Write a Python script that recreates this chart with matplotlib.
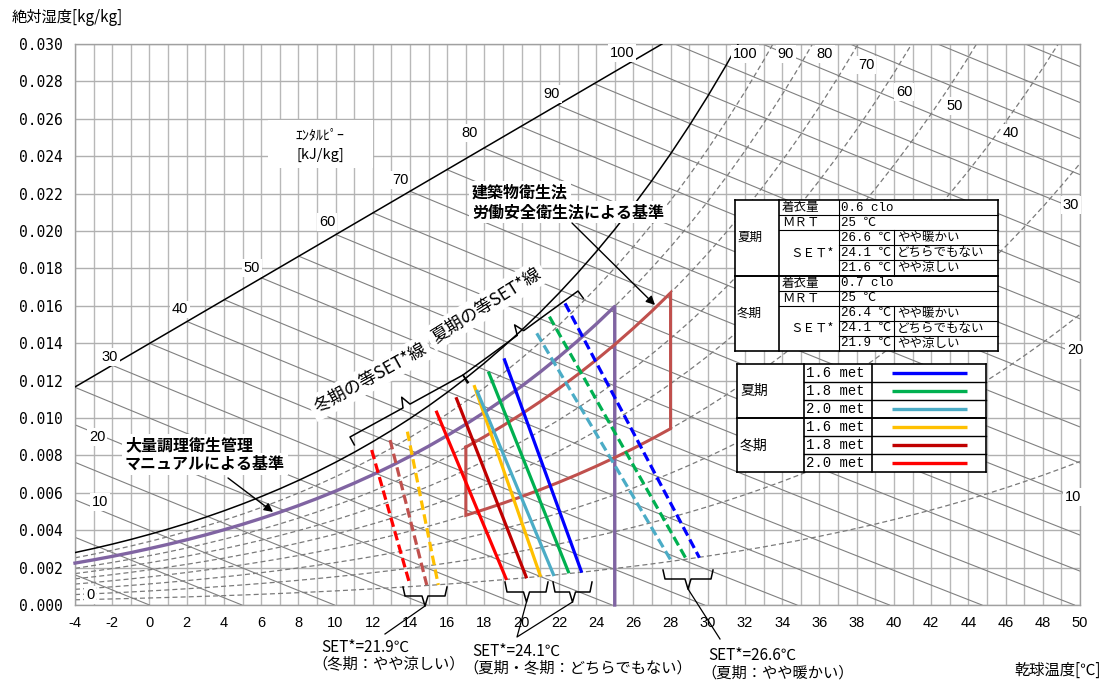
import numpy as np
import matplotlib
matplotlib.use("Agg")
import matplotlib.pyplot as plt
from matplotlib.patches import Rectangle

JP = ["Noto Sans CJK JP", "DejaVu Sans"]
NUM = ["Liberation Sans", "DejaVu Sans"]
MONO = ["Liberation Mono", "Noto Sans CJK JP", "DejaVu Sans"]
plt.rcParams['font.family'] = JP

# ---------------- psychrometric base data ----------------
temp_table = list(range(-4, 51))
ps_table = [0.4547, 0.4898, 0.5274, 0.5678, 0.6113, 0.6571, 0.7060, 0.7581, 0.8136, 0.8726,
            0.9354, 1.0021, 1.0730, 1.1482, 1.2282, 1.3129, 1.4028, 1.4981, 1.5989, 1.7057,
            1.8188, 1.9383, 2.0647, 2.1982, 2.3392, 2.4881, 2.6452, 2.8109, 2.9856, 3.1697,
            3.3637, 3.5679, 3.7828, 4.0089, 4.2467, 4.4966, 4.7592, 5.0351, 5.3247, 5.6286,
            5.9475, 6.2819, 6.6324, 6.9997, 7.3844, 7.7873, 8.2090, 8.6503, 9.1118, 9.5944,
            10.099, 10.627, 11.177, 11.752, 12.352]
P_ATM = 101.325
rh_levels = [10, 20, 30, 40, 50, 60, 70, 80, 90]
enthalpy_levels = list(range(0, 130, 5))
enth_scale_t = [-4.0, 27.54]
enth_scale_w = [0.01166, 0.030]

rh_label_text = ['100', '90', '80', '70', '60', '50', '40', '30', '20', '10']
rh_label_t = [32.0, 34.2, 36.3, 38.5, 40.54, 43.28, 46.29, 49.52, 49.73, 49.62]
rh_label_w = [0.02947, 0.02947, 0.02947, 0.02888, 0.02743, 0.02668, 0.02524, 0.02139, 0.01364, 0.00578]
h_label_text = ['0', '10', '20', '30', '40', '50', '60', '70', '80', '90', '100']
h_label_t = [-3.19, -2.66, -2.82, -2.12, 1.64, 5.51, 9.54, 13.46, 17.22, 21.63, 25.39]
h_label_w = [0.00053, 0.00551, 0.00898, 0.01326, 0.01581, 0.01802, 0.02048, 0.02273, 0.02524, 0.02733, 0.02952]

# standards
kitchen_rh = 80
kitchen_tmax = 25
bldg_t = [17, 28]
bldg_rh = [40, 70]

# ---------------- SET* lines (top t, top w, bottom t, bottom w) ----------------
set_groups = {
    'winter_21.9': dict(style='dashed',
                        colors=['#ff0000', '#c0504d', '#ffc000'],
                        top_t=[11.94, 12.93, 13.86], top_w=[0.00829, 0.00882, 0.00927],
                        bot_t=[14.00, 14.90, 15.52], bot_w=[0.00107, 0.00107, 0.00107]),
    'winter_24.1': dict(style='solid',
                        colors=['#ff0000', '#c00000', '#ffc000'],
                        top_t=[15.40, 16.47, 17.44], top_w=[0.01039, 0.01111, 0.01176],
                        bot_t=[19.19, 20.27, 21.02], bot_w=[0.00134, 0.00143, 0.00151]),
    'summer_24.1': dict(style='solid',
                        colors=['#4bacc6', '#00b050', '#0000ff'],
                        top_t=[17.58, 18.21, 19.05], top_w=[0.01150, 0.01248, 0.01319],
                        bot_t=[21.74, 22.54, 23.23], bot_w=[0.00155, 0.00170, 0.00173]),
    'summer_26.6': dict(style='dashed',
                        colors=['#4bacc6', '#00b050', '#0000ff'],
                        top_t=[20.81, 21.49, 22.33], top_w=[0.01453, 0.01542, 0.01613],
                        bot_t=[28.06, 28.87, 29.55], bot_w=[0.00232, 0.00241, 0.00253]),
}

# tables
cond_rows_summer = [('着衣量', '0.6 clo'), ('ＭＲＴ', '25 ℃')]
cond_rows_winter = [('着衣量', '0.7 clo'), ('ＭＲＴ', '25 ℃')]
set_rows_summer = [('26.6 ℃', 'やや暖かい'), ('24.1 ℃', 'どちらでもない'), ('21.6 ℃', 'やや涼しい')]
set_rows_winter = [('26.4 ℃', 'やや暖かい'), ('24.1 ℃', 'どちらでもない'), ('21.9 ℃', 'やや涼しい')]
legend_met = ['1.6 met', '1.8 met', '2.0 met']
legend_summer_colors = ['#0000ff', '#00b050', '#4bacc6']
legend_winter_colors = ['#ffc000', '#c00000', '#ff0000']

# ---------------- figure ----------------
W, H = 1107, 681
fig = plt.figure(figsize=(W / 100, H / 100), dpi=100)
ax = fig.add_axes([75 / W, (H - 605) / H, 1005 / W, 561 / H])
ax.set_xlim(-4, 50)
ax.set_ylim(0, 0.030)

ax.set_xticks(np.arange(-4, 51, 2))
ax.set_xticks(np.arange(-4, 51, 1), minor=True)
ax.set_yticks(np.arange(0, 0.0301, 0.002))
ax.set_xticklabels([str(v) for v in range(-4, 51, 2)], fontfamily=NUM, fontsize=10.5)
ax.set_yticklabels([f"{v:.3f}" for v in np.arange(0, 0.0301, 0.002)],
                   fontfamily=["DejaVu Sans Mono"], fontsize=10.5)
ax.tick_params(axis='both', which='both', length=0)
ax.tick_params(axis='x', pad=8)
ax.tick_params(axis='y', pad=9)
ax.grid(which='both', axis='x', color='#b8b8b8', lw=1.0)
ax.grid(which='major', axis='y', color='#b0b0b0', lw=1.0)
ax.set_axisbelow(True)
for s in ax.spines.values():
    s.set_color('#a0a0a0')
    s.set_linewidth(1.0)

T = np.array(temp_table, dtype=float)
PS = np.array(ps_table)


def w_rh(rh):
    pv = rh / 100.0 * PS
    return 0.622 * pv / (P_ATM - pv)


# RH curves
for rh in rh_levels:
    ax.plot(T, w_rh(rh), color='#7a7a7a', lw=0.9, ls=(0, (4, 2.5)), zorder=2)
ax.plot(T, w_rh(100), color='black', lw=1.1, zorder=3)

# enthalpy lines
td = np.linspace(enth_scale_t[0], enth_scale_t[1], 3000)
wd = np.interp(td, enth_scale_t, enth_scale_w)
hd = 1.006 * td + wd * (2501 + 1.86 * td)
for h in enthalpy_levels:
    if h <= hd[0]:
        t0 = -4.0
    elif h <= hd[-1]:
        t0 = np.interp(h, hd, td)
    else:
        t0 = (h - 0.030 * 2501) / (1.006 + 0.030 * 1.86)
    t1 = min(50.0, h / 1.006)
    if t1 <= t0:
        continue
    tt = np.linspace(t0, t1, 40)
    ax.plot(tt, (h - 1.006 * tt) / (2501 + 1.86 * tt), color='#808080', lw=0.8, zorder=2)
ax.plot(enth_scale_t, enth_scale_w, color='black', lw=1.1, zorder=3)

# purple: 大量調理 standard
m = T <= kitchen_tmax
ax.plot(list(T[m]) + [kitchen_tmax], list(w_rh(kitchen_rh)[m]) + [0.0],
        color='#8064a2', lw=2.4, zorder=4, clip_on=False)

# red polygon: 建築物衛生法
mb = (T >= bldg_t[0]) & (T <= bldg_t[1])
up = w_rh(bldg_rh[1])[mb]
lo = w_rh(bldg_rh[0])[mb]
px = list(T[mb]) + list(T[mb][::-1]) + [T[mb][0]]
py = list(up) + list(lo[::-1]) + [up[0]]
ax.plot(px, py, color='#c0504d', lw=2.2, zorder=4, solid_joinstyle='miter')

# SET* lines
for g in set_groups.values():
    ls = (0, (3, 1.4)) if g['style'] == 'dashed' else '-'
    for c, a, b, cc, d in zip(g['colors'], g['top_t'], g['top_w'], g['bot_t'], g['bot_w']):
        ax.plot([a, cc], [b, d], color=c, lw=2.3, ls=ls, zorder=5, solid_capstyle='butt')

# labels on chart
bb = dict(fc='white', ec='none', pad=1.2)
for s, t, w in zip(rh_label_text, rh_label_t, rh_label_w):
    ax.text(t, w, s, ha='center', va='center', fontsize=10.5, fontfamily=NUM,
            bbox=bb, zorder=7, clip_on=False)
for s, t, w in zip(h_label_text, h_label_t, h_label_w):
    ax.text(t, w, s, ha='center', va='center', fontsize=10.5, fontfamily=NUM,
            bbox=bb, zorder=7)
ax.add_patch(Rectangle((6.37, 0.02337), 5.63, 0.00257, fc='white', ec='none', zorder=6))
ax.text(9.16, 0.02513, 'ｴﾝﾀﾙﾋﾟｰ', ha='center', va='center', fontsize=10, zorder=7)
ax.text(9.16, 0.02406, '[kJ/kg]', ha='center', va='center', fontsize=10.5, zorder=7)

# ---------------- overlay (pixel coordinates) ----------------
ov = fig.add_axes([0, 0, 1, 1])
ov.set_xlim(0, W)
ov.set_ylim(H, 0)
ov.axis('off')
ov.patch.set_alpha(0)

ov.text(12, 17, '絶対湿度[kg/kg]', ha='left', va='center', fontsize=11)
ov.text(1101, 670, '乾球温度[℃]', ha='right', va='center', fontsize=11)

# annotation texts
wb = dict(fc='white', ec='none', pad=2)
ov.text(472, 192, '建築物衛生法', ha='left', va='center', fontsize=11.5, fontweight='bold', bbox=wb)
ov.text(472, 212, '労働安全衛生法による基準', ha='left', va='center', fontsize=11.5,
        fontweight='bold', bbox=wb)
ov.text(125, 445, '大量調理衛生管理', ha='left', va='center', fontsize=11.5, fontweight='bold', bbox=wb)
ov.text(125, 464, 'マニュアルによる基準', ha='left', va='center', fontsize=11.5,
        fontweight='bold', bbox=wb)
ap = dict(arrowstyle='-|>', color='black', lw=1.0, mutation_scale=13, shrinkA=0, shrinkB=0)
ov.annotate('', xy=(655, 305), xytext=(572, 223), arrowprops=ap)
ov.annotate('', xy=(273, 512), xytext=(228, 478), arrowprops=ap)

ov.text(370, 378, '冬期の等SET*線', ha='center', va='center', rotation=29,
        rotation_mode='anchor', fontsize=12.5, bbox=dict(fc='white', ec='none', pad=3))
ov.text(486, 305, '夏期の等SET*線', ha='center', va='center', rotation=32,
        rotation_mode='anchor', fontsize=12.5, bbox=dict(fc='white', ec='none', pad=3))


def brace(p0, p1, tick=9, tip=10):
    p0 = np.array(p0, float)
    p1 = np.array(p1, float)
    u = (p1 - p0) / np.linalg.norm(p1 - p0)
    n = np.array([u[1], -u[0]])
    mid = (p0 + p1) / 2
    pts = [p0 - n * tick, p0, mid - u * 4, mid + n * tip, mid + u * 4, p1, p1 - n * tick]
    pts = np.array(pts)
    ov.plot(pts[:, 0], pts[:, 1], color='black', lw=1.1)


brace((350, 437), (463, 375))
brace((463, 375), (578, 291))


def bottom_bracket(x0, x1, ytop, ymid, ybot):
    xc = (x0 + x1) / 2
    xs = [x0, x0 + 2, xc - 3, xc, xc + 3, x1 - 2, x1]
    ys = [ytop, ymid, ymid, ybot, ymid, ymid, ytop]
    ov.plot(xs, ys, color='black', lw=1.1)


bottom_bracket(403, 447, 587, 596, 606)
bottom_bracket(505, 548, 582, 592, 602)
bottom_bracket(553, 592, 582, 592, 602)
bottom_bracket(663, 713, 570, 579, 589)
ov.plot([425, 385], [606, 634], color='black', lw=0.9)
ov.plot([526.5, 517, 572.5], [602, 637, 602], color='black', lw=0.9)
ov.plot([688, 720], [589, 639], color='black', lw=0.9)

ov.text(321, 647, 'SET*=21.9℃', ha='left', va='center', fontsize=11)
ov.text(312, 664, '（冬期：やや涼しい）', ha='left', va='center', fontsize=11)
ov.text(472, 651, 'SET*=24.1℃', ha='left', va='center', fontsize=11)
ov.text(463, 668, '（夏期・冬期：どちらでもない）', ha='left', va='center', fontsize=11)
ov.text(708, 655, 'SET*=26.6℃', ha='left', va='center', fontsize=11)
ov.text(701, 673, '（夏期：やや暖かい）', ha='left', va='center', fontsize=11)


def seg(x0, y0, x1, y1, lw=0.8):
    ov.plot([x0, x1], [y0, y1], color='black', lw=lw, solid_capstyle='projecting')


# table 1 (conditions)
X = [735, 779, 839, 894, 998]
Y = [200 + 15.1 * i for i in range(11)]
ov.add_patch(Rectangle((X[0], Y[0]), X[4] - X[0], Y[10] - Y[0], fc='white', ec='none'))
for yy in (Y[0], Y[10]):
    seg(X[0], yy, X[4], yy, 1.2)
seg(X[0], Y[5], X[4], Y[5], 1.4)
for yy in (Y[1], Y[2], Y[6], Y[7]):
    seg(X[1], yy, X[4], yy)
for yy in (Y[3], Y[4], Y[8], Y[9]):
    seg(X[2], yy, X[4], yy)
seg(X[0], Y[0], X[0], Y[10], 1.2)
seg(X[4], Y[0], X[4], Y[10], 1.2)
seg(X[1], Y[0], X[1], Y[10], 1.2)
seg(X[2], Y[0], X[2], Y[10], 0.8)
seg(X[3], Y[2], X[3], Y[5], 0.8)
seg(X[3], Y[7], X[3], Y[10], 0.8)
fs = 9
for k, (season, cond, setr) in enumerate((('夏期', cond_rows_summer, set_rows_summer),
                                           ('冬期', cond_rows_winter, set_rows_winter))):
    b = 5 * k
    ov.text(X[0] + 2, (Y[b] + Y[b + 5]) / 2, season, ha='left', va='center', fontsize=fs)
    for i, (lab, val) in enumerate(cond):
        yc = (Y[b + i] + Y[b + i + 1]) / 2
        ov.text(X[1] + 3, yc, lab, ha='left', va='center', fontsize=fs)
        ov.text(X[2] + 2, yc, val, ha='left', va='center', fontsize=fs, fontfamily=MONO)
    ov.text((X[1] + X[2]) / 2 + 3, (Y[b + 2] + Y[b + 5]) / 2, 'ＳＥＴ*', ha='center', va='center',
            fontsize=fs)
    for i, (val, desc) in enumerate(setr):
        yc = (Y[b + 2 + i] + Y[b + 3 + i]) / 2
        ov.text(X[2] + 2, yc, val, ha='left', va='center', fontsize=fs, fontfamily=MONO)
        ov.text(X[3] + 3, yc, desc, ha='left', va='center', fontsize=fs)

# table 2 (met legend)
X2 = [737, 804, 872, 986]
Y2 = [364 + 18 * i for i in range(7)]
ov.add_patch(Rectangle((X2[0], Y2[0]), X2[3] - X2[0], Y2[6] - Y2[0], fc='white', ec='none'))
for yy in (Y2[0], Y2[6]):
    seg(X2[0], yy, X2[3], yy, 1.2)
seg(X2[0], Y2[3], X2[3], Y2[3], 1.4)
for yy in (Y2[1], Y2[2], Y2[4], Y2[5]):
    seg(X2[1], yy, X2[3], yy, 1.0)
for xx in X2:
    seg(xx, Y2[0], xx, Y2[6], 1.2)
for k, (season, cols) in enumerate((('夏期', legend_summer_colors), ('冬期', legend_winter_colors))):
    b = 3 * k
    ov.text(X2[0] + 3, (Y2[b] + Y2[b + 3]) / 2, season, ha='left', va='center', fontsize=10)
    for i, (lab, c) in enumerate(zip(legend_met, cols)):
        yc = (Y2[b + i] + Y2[b + i + 1]) / 2
        ov.text(X2[1] + 2, yc, lab, ha='left', va='center', fontsize=10, fontfamily=MONO)
        ov.plot([892, 967], [yc, yc], color=c, lw=2.4, solid_capstyle='butt')

fig.savefig('out.png', dpi=100)
